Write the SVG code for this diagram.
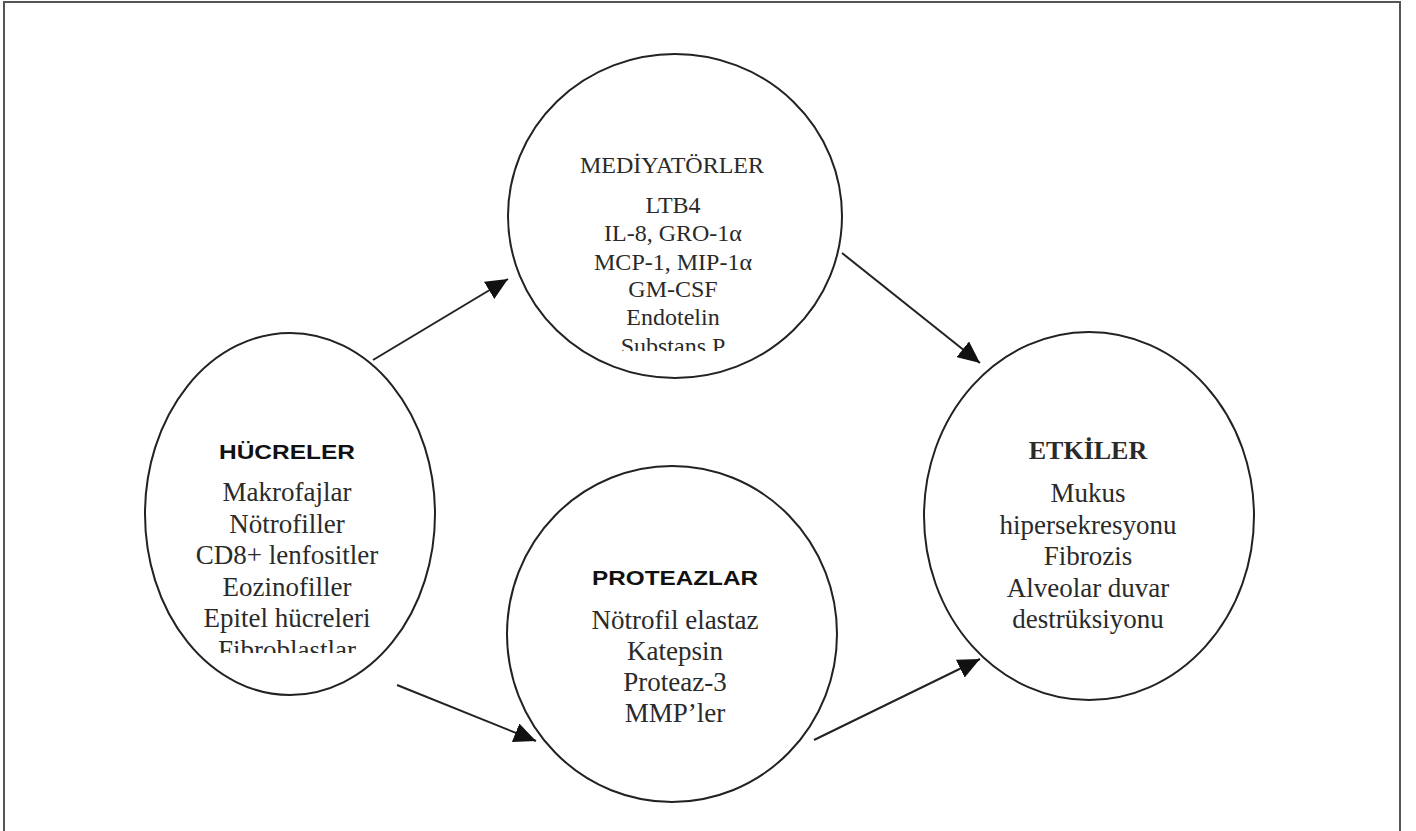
<svg xmlns="http://www.w3.org/2000/svg" width="1416" height="831" viewBox="0 0 1416 831">
  <style>
    .node { fill: #ffffff; stroke: #222222; stroke-width: 2; }
    .serif { font-family: "Liberation Serif", "Times New Roman", serif; fill: #2a2a2a; text-anchor: middle; }
    .sans { font-family: "Liberation Sans", Arial, sans-serif; font-weight: bold; fill: #111111; text-anchor: middle; }
    .b27 { font-size: 27px; }
    .b24 { font-size: 24px; }
    .conn { stroke: #222222; stroke-width: 2; fill: none; marker-end: url(#arrow); }
  </style>
  <defs>
    <marker id="arrow" viewBox="0 0 22 20" refX="22" refY="10" markerWidth="22" markerHeight="20" markerUnits="userSpaceOnUse" orient="auto">
      <path d="M0,0 L22,10 L0,20 z" fill="#111111"/>
    </marker>
    <clipPath id="clipMed"><rect x="500" y="40" width="350" height="311"/></clipPath>
    <clipPath id="clipHuc"><rect x="140" y="320" width="300" height="333"/></clipPath>
  </defs>
  <rect x="0" y="0" width="1416" height="831" fill="#ffffff"/>
  <rect x="4" y="2" width="1396" height="850" fill="none" stroke="#555555" stroke-width="2"/>

  <g id="connectors">
    <line class="conn" x1="373" y1="360" x2="508" y2="279"/>
    <line class="conn" x1="842" y1="253" x2="980" y2="363"/>
    <line class="conn" x1="397" y1="685" x2="536" y2="741"/>
    <line class="conn" x1="814" y1="740" x2="980" y2="659"/>
  </g>

  <g id="mediyatorler">
    <ellipse class="node" cx="675" cy="216" rx="167" ry="162"/>
    <g class="serif b24" clip-path="url(#clipMed)">
      <text x="672" y="173">MEDİYATÖRLER</text>
      <text x="673" y="213">LTB4</text>
      <text x="673" y="241">IL-8, GRO-1α</text>
      <text x="673" y="270">MCP-1, MIP-1α</text>
      <text x="673" y="297">GM-CSF</text>
      <text x="673" y="325">Endotelin</text>
      <text x="673" y="354">Substans P</text>
    </g>
  </g>

  <g id="hucreler">
    <ellipse class="node" cx="290" cy="514" rx="145" ry="181"/>
    <text class="sans" x="287" y="459" font-size="20" textLength="136" lengthAdjust="spacingAndGlyphs">HÜCRELER</text>
    <g class="serif b27" clip-path="url(#clipHuc)">
      <text x="287" y="501">Makrofajlar</text>
      <text x="287" y="533">Nötrofiller</text>
      <text x="287" y="564">CD8+ lenfositler</text>
      <text x="287" y="596">Eozinofiller</text>
      <text x="287" y="627">Epitel hücreleri</text>
      <text x="287" y="659">Fibroblastlar</text>
    </g>
  </g>

  <g id="proteazlar">
    <ellipse class="node" cx="672" cy="634" rx="165" ry="168"/>
    <text class="sans" x="675" y="585" font-size="21" textLength="166" lengthAdjust="spacingAndGlyphs">PROTEAZLAR</text>
    <g class="serif b27">
      <text x="675" y="629">Nötrofil elastaz</text>
      <text x="675" y="660">Katepsin</text>
      <text x="675" y="691">Proteaz-3</text>
      <text x="675" y="722">MMP’ler</text>
    </g>
  </g>

  <g id="etkiler">
    <ellipse class="node" cx="1089" cy="516" rx="165" ry="184"/>
    <text class="serif" x="1088" y="459" font-size="26" font-weight="bold" fill="#111111">ETKİLER</text>
    <g class="serif b27">
      <text x="1088" y="502">Mukus</text>
      <text x="1088" y="534">hipersekresyonu</text>
      <text x="1088" y="565">Fibrozis</text>
      <text x="1088" y="597">Alveolar duvar</text>
      <text x="1088" y="628">destrüksiyonu</text>
    </g>
  </g>
</svg>
